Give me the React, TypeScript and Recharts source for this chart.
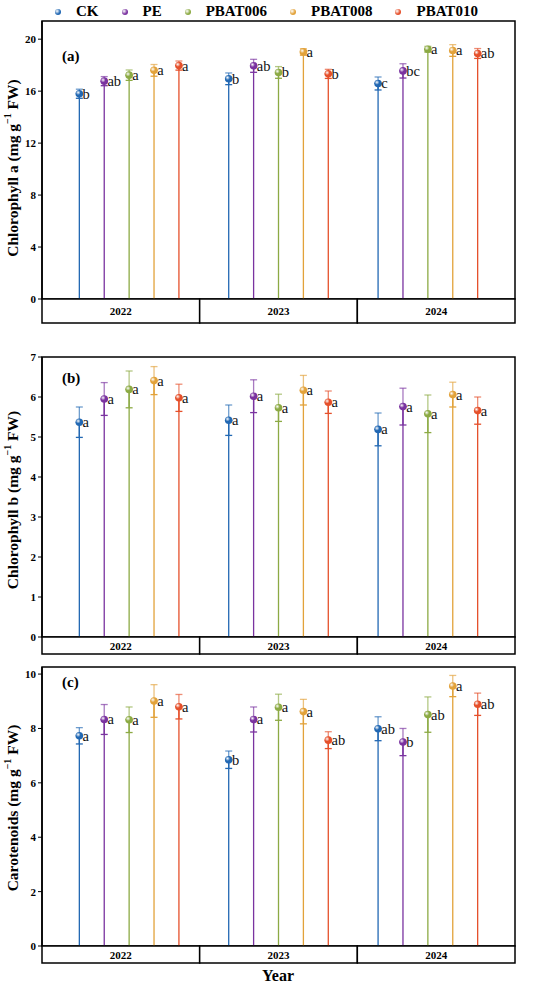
import React from "react"
import {
  ComposedChart,
  Scatter,
  ErrorBar,
  XAxis,
  YAxis,
  ReferenceArea,
} from "recharts"

const treatments = ["CK", "PE", "PBAT006", "PBAT008", "PBAT010"]
const years = ["2022", "2023", "2024"]
const colors = ["#2268b3", "#7a33a0", "#8caa44", "#e2a23a", "#e5502b"]

// rows = years, columns = treatments
const chlAMean = [
  [15.8, 16.77, 17.23, 17.6, 17.97],
  [16.95, 17.95, 17.44, 19.02, 17.33],
  [16.59, 17.56, 19.23, 19.13, 18.9],
]
const chlAErr = [
  [0.35, 0.35, 0.4, 0.45, 0.35],
  [0.45, 0.5, 0.45, 0.25, 0.35],
  [0.5, 0.55, 0.22, 0.45, 0.38],
]
const chlASig = [
  ["b", "ab", "a", "a", "a"],
  ["b", "ab", "b", "a", "b"],
  ["c", "bc", "a", "a", "ab"],
]

const chlBMean = [
  [5.37, 5.95, 6.19, 6.41, 5.98],
  [5.42, 6.02, 5.73, 6.17, 5.87],
  [5.19, 5.76, 5.58, 6.06, 5.66],
]
const chlBErr = [
  [0.38, 0.41, 0.46, 0.35, 0.34],
  [0.38, 0.41, 0.34, 0.37, 0.28],
  [0.41, 0.46, 0.47, 0.31, 0.34],
]
const chlBSig = [
  ["a", "a", "a", "a", "a"],
  ["a", "a", "a", "a", "a"],
  ["a", "a", "a", "a", "a"],
]

const carMean = [
  [7.73, 8.33, 8.32, 9.01, 8.8],
  [6.85, 8.33, 8.78, 8.62, 7.57],
  [7.99, 7.5, 8.51, 9.56, 8.89],
]
const carErr = [
  [0.3, 0.55, 0.47, 0.6, 0.45],
  [0.32, 0.46, 0.48, 0.45, 0.31],
  [0.44, 0.5, 0.65, 0.39, 0.41],
]
const carSig = [
  ["a", "a", "a", "a", "a"],
  ["b", "a", "a", "a", "ab"],
  ["ab", "b", "ab", "a", "ab"],
]

const chlATicks = [0, 4, 8, 12, 16, 20]
const chlBTicks = [0, 1, 2, 3, 4, 5, 6, 7]
const carTicks = [0, 2, 4, 6, 8, 10]

const X_DOMAIN: [number, number] = [-0.5, 18.5]
const PLOT_W = 473
const SERIF = "'Liberation Serif', 'Times New Roman', serif"

// year boxes split the x range into thirds
const yearCenters = years.map(
  (_, i) => X_DOMAIN[0] + ((X_DOMAIN[1] - X_DOMAIN[0]) / 6) * (2 * i + 1)
)

function buildSeries(mean: number[][], err: number[][], sig: string[][], t: number) {
  return years.map((_, yi) => {
    const v = mean[yi][t]
    const e = err[yi][t]
    return {
      x: 1 + yi * 6 + t,
      v,
      stem: [v, 0],
      low: [e, 0],
      up: [0, e],
      sig: sig[yi][t],
    }
  })
}

function Ball(props: any) {
  const { cx, cy, payload, color, id } = props
  if (cx == null || cy == null) return null
  return (
    <g>
      <defs>
        <radialGradient id={id} cx="35%" cy="35%" r="70%">
          <stop offset="0%" stopColor="#ffffff" stopOpacity={0.9} />
          <stop offset="45%" stopColor={color} />
          <stop offset="100%" stopColor={color} />
        </radialGradient>
      </defs>
      <circle cx={cx} cy={cy} r={3.8} fill={`url(#${id})`} />
      <text x={cx + 3.2} y={cy + 5} fontFamily={SERIF} fontSize={14.5} fill="#111">
        {payload.sig}
      </text>
    </g>
  )
}

function YearTick(props: any) {
  const { x, y, payload, h } = props
  let idx = 0
  yearCenters.forEach((c, i) => {
    if (Math.abs(c - payload.value) < Math.abs(yearCenters[idx] - payload.value)) idx = i
  })
  const w = PLOT_W / 3
  return (
    <g>
      <rect x={x - w / 2} y={y} width={w} height={h} fill="#fff" stroke="#000" strokeWidth={1.5} />
      <text
        x={x}
        y={y + h / 2 + 4}
        textAnchor="middle"
        fontFamily={SERIF}
        fontWeight="bold"
        fontSize={11}
        fill="#000"
      >
        {years[idx]}
      </text>
    </g>
  )
}

type PanelProps = {
  name: string
  mean: number[][]
  err: number[][]
  sig: string[][]
  ticks: number[]
  yMax: number
  height: number
  margin: { top: number; right: number; bottom: number; left: number }
  stripH: number
}

function Panel({ name, mean, err, sig, ticks, yMax, height, margin, stripH }: PanelProps) {
  return (
    <ComposedChart width={550} height={height} margin={margin}>
      <XAxis
        type="number"
        dataKey="x"
        domain={X_DOMAIN}
        ticks={yearCenters}
        interval={0}
        height={stripH}
        axisLine={false}
        tickLine={false}
        tickSize={0}
        tickMargin={0}
        tick={<YearTick h={stripH} />}
        allowDataOverflow
      />
      <YAxis
        type="number"
        dataKey="v"
        domain={[0, yMax]}
        ticks={ticks}
        interval={0}
        width={42}
        allowDataOverflow
        axisLine={{ stroke: "#000", strokeWidth: 1.5 }}
        tickLine={{ stroke: "#000" }}
        tickSize={4}
        tick={{ fill: "#000", fontSize: 11, fontWeight: "bold", fontFamily: SERIF }}
      />
      <ReferenceArea
        x1={X_DOMAIN[0]}
        x2={X_DOMAIN[1]}
        y1={0}
        y2={yMax}
        fill="none"
        stroke="#000"
        strokeWidth={1.5}
        fillOpacity={0}
      />
      {treatments.map((t, ti) => (
        <Scatter
          key={t}
          name={t}
          data={buildSeries(mean, err, sig, ti)}
          isAnimationActive={false}
          shape={(p: any) => <Ball {...p} color={colors[ti]} id={`g-${name}-${ti}`} />}
        >
          <ErrorBar dataKey="stem" direction="y" width={0} stroke={colors[ti]} strokeWidth={1.3} isAnimationActive={false} />
          <ErrorBar dataKey="low" direction="y" width={3.5} stroke={colors[ti]} strokeWidth={1.3} isAnimationActive={false} />
          <ErrorBar
            dataKey="up"
            direction="y"
            width={3.5}
            stroke={colors[ti]}
            strokeOpacity={0.65}
            strokeWidth={1.3}
            isAnimationActive={false}
          />
        </Scatter>
      ))}
    </ComposedChart>
  )
}

const textBold: React.CSSProperties = {
  position: "absolute",
  fontFamily: SERIF,
  fontWeight: "bold",
  color: "#000",
  whiteSpace: "nowrap",
}

function YLabel({ top, children }: { top: number; children: React.ReactNode }) {
  return (
    <div
      style={{
        ...textBold,
        left: 12,
        top,
        fontSize: 15.5,
        transform: "translate(-50%, -50%) rotate(-90deg)",
      }}
    >
      {children}
    </div>
  )
}

export default function App() {
  return (
    <div
      style={{
        position: "absolute",
        left: 0,
        top: 0,
        width: 550,
        height: 986,
        background: "#fff",
        overflow: "hidden",
      }}
    >
      <div
        style={{
          position: "absolute",
          left: 55,
          top: 3,
          display: "flex",
          alignItems: "center",
          fontFamily: SERIF,
          fontWeight: "bold",
          fontSize: 15,
        }}
      >
        {treatments.map((t, i) => (
          <div key={t} style={{ display: "flex", alignItems: "center", marginRight: 23 }}>
            <span
              style={{
                width: 6,
                height: 6,
                borderRadius: "50%",
                background: `radial-gradient(circle at 35% 35%, #fff 0%, ${colors[i]} 55%)`,
                marginRight: 15,
              }}
            />
            <span>{t}</span>
          </div>
        ))}
      </div>

      <div style={{ position: "absolute", left: 0, top: 0 }}>
        <Panel
          name="a"
          mean={chlAMean}
          err={chlAErr}
          sig={chlASig}
          ticks={chlATicks}
          yMax={21.4}
          height={325}
          margin={{ top: 21, right: 35, bottom: 2, left: 0 }}
          stripH={24}
        />
      </div>
      <div style={{ position: "absolute", left: 0, top: 330 }}>
        <Panel
          name="b"
          mean={chlBMean}
          err={chlBErr}
          sig={chlBSig}
          ticks={chlBTicks}
          yMax={7}
          height={330}
          margin={{ top: 27, right: 35, bottom: 6, left: 0 }}
          stripH={17}
        />
      </div>
      <div style={{ position: "absolute", left: 0, top: 660 }}>
        <Panel
          name="c"
          mean={carMean}
          err={carErr}
          sig={carSig}
          ticks={carTicks}
          yMax={10.26}
          height={310}
          margin={{ top: 7, right: 35, bottom: 7, left: 0 }}
          stripH={17}
        />
      </div>

      <div style={{ ...textBold, left: 62, top: 48, fontSize: 15 }}>(a)</div>
      <div style={{ ...textBold, left: 62, top: 370, fontSize: 15 }}>(b)</div>
      <div style={{ ...textBold, left: 62, top: 674, fontSize: 15 }}>(c)</div>

      <YLabel top={168}>
        Chlorophyll a (mg g<sup style={{ fontSize: 10 }}>−1</sup> FW)
      </YLabel>
      <YLabel top={500}>
        Chlorophyll b (mg g<sup style={{ fontSize: 10 }}>−1</sup> FW)
      </YLabel>
      <YLabel top={808}>
        Carotenoids (mg g<sup style={{ fontSize: 10 }}>−1</sup> FW)
      </YLabel>

      <div style={{ ...textBold, left: 278, top: 976, fontSize: 16, transform: "translate(-50%, -50%)" }}>
        Year
      </div>
    </div>
  )
}
